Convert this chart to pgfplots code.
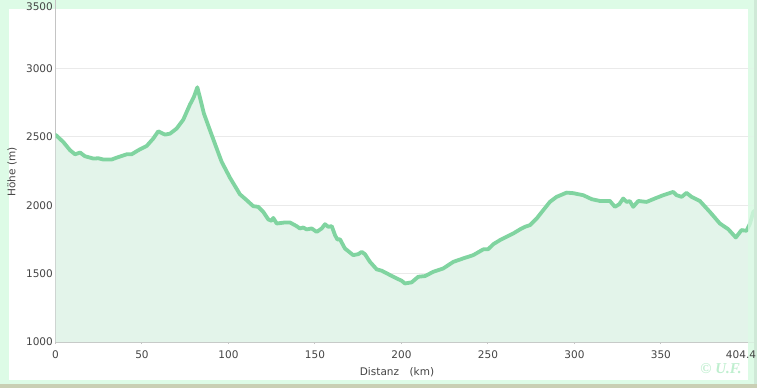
\documentclass[border=0pt]{standalone}
\usepackage{pgfplots}
\usepackage{pgfplotstable}
\pgfplotsset{compat=1.18}
\usepackage{fontspec}
\setmainfont{DejaVu Sans}
\newfontfamily\cfont{Liberation Serif}
\definecolor{bggreen}{HTML}{DDFBE6}
\definecolor{curve}{HTML}{80D4A0}
\definecolor{areafill}{HTML}{E3F4EA}
\definecolor{txt}{HTML}{444444}
\definecolor{axgray}{HTML}{C4C4C4}
\definecolor{gridc}{HTML}{EAEAEA}
\definecolor{mapc}{HTML}{C9CFB4}
\definecolor{copyc}{HTML}{BFEFCF}
\pgfplotstableread{
km ele
0 2515
4.5 2462
8.4 2402
11.3 2372
14.2 2385
17 2358
21.9 2341
24.8 2343
27.6 2334
32.5 2334
35.4 2348
41.2 2372
44 2372
47.9 2402
52.7 2433
56.5 2487
59.4 2540
63.3 2516
66.2 2523
70 2560
73.9 2626
77.7 2735
80 2791
82 2862
83.9 2767
85.8 2670
89.3 2548
93.2 2414
96.1 2316
100.9 2200
106.6 2080
110.5 2037
114.3 1993
117.2 1988
120.1 1951
123 1896
125 1886
125.9 1907
127.9 1866
132.7 1874
135.5 1874
139.4 1847
141.3 1830
143.2 1837
145.2 1823
148.1 1830
151 1805
153.9 1830
155.8 1861
157.7 1842
159.7 1847
161.6 1781
162.9 1750
164.5 1750
167.3 1684
172.1 1635
175 1642
177 1659
178.9 1642
181.8 1586
185.7 1531
188.6 1521
192.4 1496
197.2 1465
200.1 1448
202 1428
205.9 1436
209.7 1477
213.6 1482
218.4 1513
224.2 1538
230 1586
235.7 1611
241.5 1635
247.3 1677
250.2 1679
253.1 1715
257 1745
260.8 1769
264.6 1793
268.5 1823
271.4 1842
274.3 1854
278.2 1903
282 1964
285.8 2024
289.7 2061
295.5 2092
299.3 2088
305.1 2073
310 2044
314.7 2031
320.5 2031
323.4 1988
325.9 2007
328.2 2049
330.2 2024
332 2030
334 1988
336.9 2031
341.7 2024
346.5 2049
351.3 2073
357.1 2097
359.1 2073
362 2061
364.8 2090
367.7 2061
372.5 2031
378.3 1951
384.1 1866
388.9 1825
393.3 1764
396.6 1818
399.5 1813
401.5 1866
403.4 1951
404.4 1960
}\profile
\begin{document}
\begin{tikzpicture}[x=1pt,y=1pt]
\useasboundingbox (0,0) rectangle (757,388);
\fill[bggreen] (0,0) rectangle (757,388);
\fill[white] (9,8) rectangle (748,379);
\fill[mapc] (0,0) rectangle (757,4);
\fill[bggreen!85!gray] (754,4) rectangle (757,42);
\begin{axis}[
  at={(55.5pt,46pt)}, anchor=south west,
  scale only axis, width=699.5pt, height=342pt,
  xmin=0, xmax=404.4, ymin=1000, ymax=3500,
  axis x line*=bottom, axis y line*=left,
  axis line style={axgray, line width=1.5pt},
  xtick={0,50,100,150,200,250,300,350},
  xticklabels={0,50,100,150,200,250,300,350},
  extra x ticks={404.4}, extra x tick labels={404.4},
  extra x tick style={xticklabel style={xshift=-14pt}},
  ytick={1000,1500,2000,2500,3000},
  yticklabels={1000,1500,2000,2500,3000},
  extra y ticks={3500}, extra y tick labels={3500},
  extra y tick style={yticklabel style={yshift=-7pt}, grid=none},
  ymajorgrids, grid style={gridc, line width=0.8pt},
  tick label style={font=\fontsize{10.5}{12}\selectfont, text=txt},
  yticklabel style={inner sep=1pt, xshift=0.5pt},
  xticklabel style={yshift=-3.5pt},
  x tick style={axgray, line width=1pt}, major tick length=4pt, tick align=center,
  y tick style={draw=none},
]
\addplot[draw=none, fill=areafill] table[x=km, y=ele] {\profile} \closedcycle;
\addplot[curve, line width=3.8pt, line join=round, line cap=round] table[x=km, y=ele] {\profile};
\end{axis}
\fill[bggreen, opacity=0.75] (748,42) rectangle (757,388);
\fill[bggreen!85!gray] (754,42) rectangle (757,388);
\node[rotate=90, text=txt, font=\fontsize{10.5}{12}\selectfont] at (12,216) {Höhe (m)};
\node[text=txt, font=\fontsize{10.5}{12}\selectfont] at (397,16) {Distanz\quad(km)};
\node[text=copyc, font=\cfont\bfseries\itshape\fontsize{15}{17}\selectfont] at (721,19) {© U.F.};
\end{tikzpicture}
\end{document}
